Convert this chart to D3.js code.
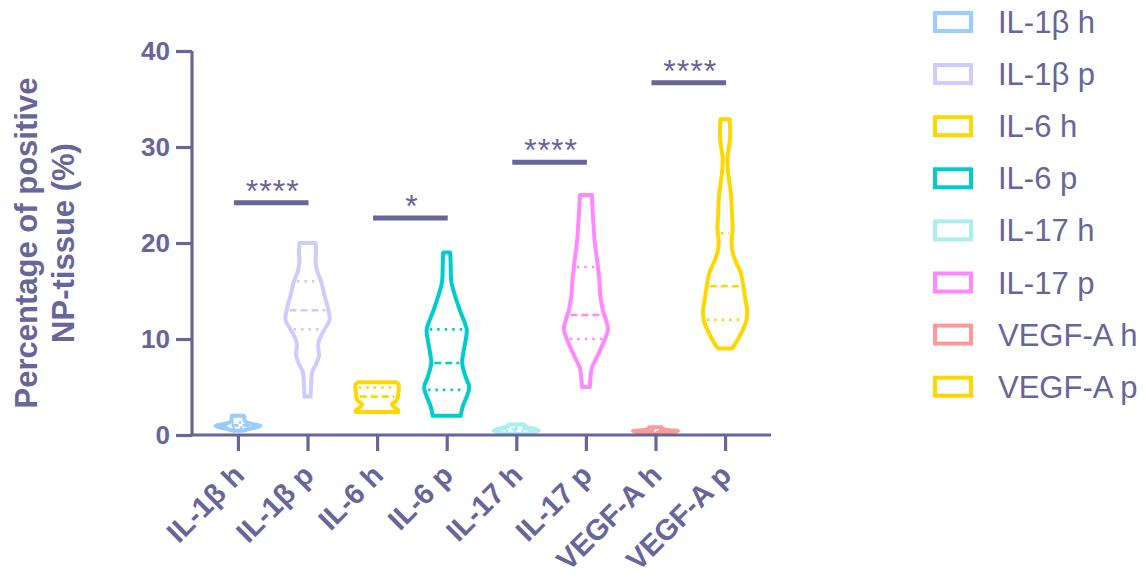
<!DOCTYPE html>
<html>
<head>
<meta charset="utf-8">
<script src="https://cdn.jsdelivr.net/npm/d3@7"></script>
<style>
  body { margin: 0; background: #fff; }
  text { font-family: "Liberation Sans", Arial, sans-serif; }
</style>
</head>
<body>
<div id="chart"></div>
<script>
(function(){
  'use strict';

  // groups, in axis order
  var groups = ['IL-1β h', 'IL-1β p', 'IL-6 h', 'IL-6 p', 'IL-17 h', 'IL-17 p', 'VEGF-A h', 'VEGF-A p'];
  var colors = ['#99ccff', '#ccccff', '#ffd700', '#00cccc', '#aaeeee', '#ff88ff', '#ff9999', '#ffd700'];

  // violin outlines: [value %, relative density]
  var il1bH = [[0.45,.22],[0.55,.35],[0.75,.70],[0.95,.98],[1.15,.61],[1.35,.35],[1.6,.28],[1.85,.28],[2.0,.26]];
  var il1bP = [[4,.13],[5,.15],[6.5,.20],[7.5,.39],[8.3,.50],[9.3,.46],[10,.52],[11,.74],[12,.96],[13,.91],[14.5,.74],[16,.59],[17,.43],[18,.35],[19,.37],[20,.35]];
  var il6H = [[2.4,.93],[2.6,.91],[2.9,.74],[3.2,.65],[3.6,.85],[4.5,.93],[5.3,.93],[5.5,.83]];
  var il6P = [[2.0,.61],[3,.70],[4,.87],[5,.98],[6,.83],[7.5,.67],[8.5,.72],[10,.83],[11,.87],[13,.57],[15,.30],[16,.20],[18,.17],[19,.15]];
  var il17H = [[0.1,.39],[0.25,.65],[0.45,.98],[0.65,.78],[0.85,.43],[1.05,.35],[1.1,.30]];
  var il17P = [[5,.17],[6,.20],[7,.26],[8,.46],[9,.65],[10,.83],[11,.96],[12,.87],[13,.74],[14.5,.63],[16,.59],[18,.50],[20,.39],[22,.33],[24,.28],[25,.26]];
  var vegfH = [[0.1,.35],[0.25,.65],[0.4,.98],[0.55,.43],[0.7,.30],[0.8,.26]];
  var vegfP = [[9,.28],[9.3,.39],[10,.57],[11,.78],[12,.93],[13,.96],[14,.89],[15,.83],[16,.76],[17,.67],[18,.48],[19,.33],[20,.28],[21.5,.33],[23,.30],[25,.26],[27,.15],[28,.11],[29,.11],[30,.17],[31,.22],[32,.22],[32.9,.20]];
  var profiles = [il1bH, il1bP, il6H, il6P, il17H, il17P, vegfH, vegfP];

  // quartiles [Q1, median, Q3]
  var quartiles = [[0.75,1.0,1.3],[11,13,16],[2.5,4.0,4.95],[4.7,7.5,11],[0.4,0.6,0.8],[10,12.5,17.5],[0.3,0.4,0.5],[12,15.5,21]];

  // significance bars
  var sigFrom = [0, 2, 4, 6];
  var sigTo = [1, 3, 5, 7];
  var sigLevel = [24.2, 22.6, 28.4, 36.7];
  var sigLabel = ['****', '*', '****', '****'];

  var yTicks = [0, 10, 20, 30, 40];

  var ink = '#66669a',
      W = 1146, H = 575;

  var svg = d3.select('#chart').append('svg')
    .attr('width', W)
    .attr('height', H);

  var x = d3.scalePoint()
    .domain(groups)
    .range([192, 771])
    .padding(0.66);

  var y = d3.scaleLinear()
    .domain([0, 40])
    .range([435, 51]);

  var wScale = d3.scaleLinear()
    .domain([0, 1])
    .range([0, 23]);

  // violins
  var area = d3.area()
    .y(function(d){ return y(d[0]); })
    .curve(d3.curveCatmullRom.alpha(0.5));

  function halfWidth(prof, v) {
    var vals = prof.map(function(p){ return p[0]; });
    var dens = prof.map(function(p){ return p[1]; });
    return wScale(d3.scaleLinear().domain(vals).range(dens).clamp(true)(v));
  }

  var vg = svg.selectAll('.violin')
    .data(groups)
    .enter()
    .append('g')
    .attr('class', 'violin');

  vg.append('path')
    .attr('d', function(g, i){
      var cx = x(g);
      return area
        .x0(function(d){ return cx - wScale(d[1]); })
        .x1(function(d){ return cx + wScale(d[1]); })(profiles[i]);
    })
    .attr('fill', 'none')
    .attr('stroke', function(g, i){ return colors[i]; })
    .attr('stroke-width', 4)
    .attr('stroke-linejoin', 'round');

  vg.selectAll('.q')
    .data(function(g, i){
      return quartiles[i].map(function(q, k){ return {g: g, i: i, v: q, k: k}; });
    })
    .enter()
    .append('line')
    .attr('x1', function(d){ return x(d.g) - halfWidth(profiles[d.i], d.v) + 3; })
    .attr('x2', function(d){ return x(d.g) + halfWidth(profiles[d.i], d.v) - 3; })
    .attr('y1', function(d){ return y(d.v); })
    .attr('y2', function(d){ return y(d.v); })
    .attr('stroke', function(d){ return colors[d.i]; })
    .attr('stroke-width', 2.6)
    .attr('stroke-dasharray', function(d){ return d.k === 1 ? '7,4' : '2.5,5'; });

  // axes
  var yAxis = d3.axisLeft(y)
    .tickValues(yTicks)
    .tickSize(16)
    .tickPadding(6);

  var xAxis = d3.axisBottom(x)
    .tickSize(16)
    .tickFormat('');

  var gx = svg.append('g')
    .attr('transform', 'translate(0,' + y(0) + ')')
    .call(xAxis);
  gx.select('.domain').attr('d', 'M192,0H771');

  var gy = svg.append('g')
    .attr('transform', 'translate(192,0)')
    .call(yAxis);
  gy.select('.domain').attr('d', 'M0,' + y(40) + 'V' + y(0));

  svg.selectAll('.domain, .tick line')
    .attr('stroke', ink)
    .attr('stroke-width', 3.2);

  gy.selectAll('.tick text')
    .attr('fill', ink)
    .style('font-size', '26px')
    .style('font-weight', 'bold');

  // rotated category labels
  svg.append('g').selectAll('text')
    .data(groups)
    .enter()
    .append('text')
    .attr('transform', function(d){ return 'translate(' + (x(d) + 8) + ',477) rotate(-45)'; })
    .attr('text-anchor', 'end')
    .attr('fill', ink)
    .style('font-size', '29px')
    .style('font-weight', 'bold')
    .text(function(d){ return d; });

  // y title
  var yt = svg.append('text')
    .attr('transform', 'translate(0,' + ((y(0) + y(40)) / 2) + ') rotate(-90)')
    .attr('text-anchor', 'middle')
    .attr('fill', ink)
    .style('font-size', '31px')
    .style('font-weight', 'bold');
  yt.append('tspan').attr('x', 0).attr('y', 37).text('Percentage of positive');
  yt.append('tspan').attr('x', 0).attr('y', 74).text('NP-tissue (%)');

  // significance
  var sg = svg.selectAll('.sig')
    .data(sigLevel)
    .enter()
    .append('g')
    .attr('class', 'sig');

  sg.append('line')
    .attr('x1', function(d, i){ return x(groups[sigFrom[i]]) - 4; })
    .attr('x2', function(d, i){ return x(groups[sigTo[i]]) + 1; })
    .attr('y1', function(d){ return y(d); })
    .attr('y2', function(d){ return y(d); })
    .attr('stroke', ink)
    .attr('stroke-width', 5);

  sg.append('text')
    .attr('x', function(d, i){ return (x(groups[sigFrom[i]]) + x(groups[sigTo[i]])) / 2; })
    .attr('y', function(d){ return y(d) - 1; })
    .attr('text-anchor', 'middle')
    .attr('fill', ink)
    .style('font-size', '32px')
    .style('letter-spacing', '1px')
    .text(function(d, i){ return sigLabel[i]; });

  // legend
  var lg = svg.selectAll('.leg')
    .data(groups)
    .enter()
    .append('g')
    .attr('class', 'leg')
    .attr('transform', function(d, i){ return 'translate(933,' + (22 + i * 52.1) + ')'; });

  lg.append('rect')
    .attr('x', 2)
    .attr('y', -9)
    .attr('width', 36)
    .attr('height', 18)
    .attr('fill', 'none')
    .attr('stroke', function(d, i){ return colors[i]; })
    .attr('stroke-width', 4);

  lg.append('text')
    .attr('x', 65)
    .attr('y', 11)
    .attr('fill', ink)
    .style('font-size', '31px')
    .text(function(d){ return d; });

}());
</script>
</body>
</html>
